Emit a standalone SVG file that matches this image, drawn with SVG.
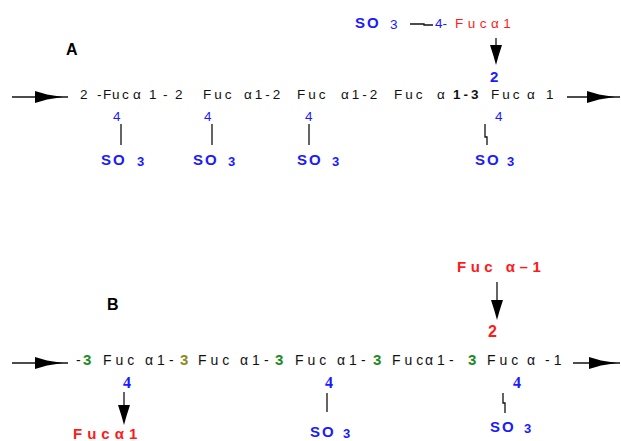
<svg xmlns="http://www.w3.org/2000/svg" width="621" height="441" viewBox="0 0 621 441">
  <style>
    text { font-family: "Liberation Sans", Arial, sans-serif; }
    .chain { font-size: 13.5px; letter-spacing: 3px; fill: #111; }
    .chainB { font-size: 14px; letter-spacing: 4px; fill: #111; }
    .one { font-size: 13.5px; fill: #111; }
    .bold { font-weight: bold; }
    .panel { font-size: 16px; font-weight: bold; fill: #000; }
    .blue { fill: #1a1aff; }
    .red { fill: #ff1a1a; }
    .green { fill: #1a8c1a; }
    .olive { fill: #8c8c1a; }
    .pos { font-size: 13.5px; }
    .posB { font-size: 16px; font-weight: bold; font-family: "Liberation Serif", "Times New Roman", serif; }
    .link3 { font-size: 15px; font-weight: bold; }
    .so { font-size: 15px; font-weight: bold; letter-spacing: 2px; }
    .sub { font-size: 13px; font-weight: bold; }
    .link { stroke: #111; stroke-width: 1.3; fill: none; }
    .head { fill: #000; }
  </style>

  <defs>
    <!-- arrowhead pointing right, tip at origin -->
    <polygon id="headRight" points="-28,-6 -16,-2.5 0,0 -16,2.5 -28,6"/>
    <!-- arrowhead pointing down, tip at origin -->
    <polygon id="headDown" points="-6,-20 6,-20 2.5,-9 0,0 -2.5,-9"/>
  </defs>

  <!-- ===================== Panel A ===================== -->
  <g id="labelA"><text class="panel" x="66" y="55">A</text></g>

  <g id="chainA">
    <text class="one" x="80" y="99">2</text>
    <text class="one" x="97 103 112 122" y="99">-Fuc</text>
    <text class="one" x="133 149 163 175" y="99">α1-2</text>
    <text class="chain" x="203" y="99">Fuc</text>
    <text class="chain" x="244" y="99">α1-2</text>
    <text class="chain" x="297" y="99">Fuc</text>
    <text class="chain" x="341" y="99">α1-2</text>
    <text class="chain" x="394" y="99">Fuc</text>
    <text class="one" x="437" y="99">α</text>
    <text class="chain bold" x="453" y="99">1-3</text>
    <text class="chain" x="491" y="99">Fuc</text>
    <text class="one" x="527" y="99">α</text>
    <text class="one" x="546" y="99">1</text>
  </g>

  <g id="sulfateA1">
    <text class="pos blue" x="113" y="121">4</text>
    <text class="so blue" x="101" y="165">SO</text>
    <text class="sub blue" x="137" y="166">3</text>
  </g>
  <g id="sulfateA2">
    <text class="pos blue" x="204" y="121">4</text>
    <text class="so blue" x="193" y="165">SO</text>
    <text class="sub blue" x="228" y="166">3</text>
  </g>
  <g id="sulfateA3">
    <text class="pos blue" x="305" y="121">4</text>
    <text class="so blue" x="297" y="165">SO</text>
    <text class="sub blue" x="332" y="166">3</text>
  </g>
  <g id="sulfateA4">
    <text class="pos blue" x="495" y="121">4</text>
    <text class="so blue" x="475" y="165">SO</text>
    <text class="sub blue" x="507" y="166">3</text>
  </g>

  <g id="branchA">
    <text class="so blue" x="355" y="28">SO</text>
    <text class="pos blue" x="390" y="29">3</text>
    <text class="pos blue" x="435" y="28">4-</text>
    <text class="chain red" x="455" y="28" style="letter-spacing:4.5px">Fucα1</text>
    <text class="sub blue" x="490" y="82" style="font-size:15px">2</text>
  </g>

  <!-- ===================== Panel B ===================== -->
  <g id="labelB"><text class="panel" x="107" y="310">B</text></g>

  <g id="chainB">
    <text class="one" x="76" y="365" style="font-size:14px">-</text>
    <text class="link3 green" x="83" y="365">3</text>
    <text class="chainB" x="103" y="365">Fuc</text>
    <text class="chainB" x="145" y="365">α1-</text>
    <text class="link3 olive" x="180" y="365">3</text>
    <text class="chainB" x="198" y="365">Fuc</text>
    <text class="chainB" x="240" y="365">α1-</text>
    <text class="link3 green" x="275" y="365">3</text>
    <text class="chainB" x="295" y="365">Fuc</text>
    <text class="chainB" x="337" y="365">α1-</text>
    <text class="link3 green" x="373" y="365">3</text>
    <text class="chainB" x="392" y="365">Fuc</text>
    <text class="chainB" x="425" y="365">α1-</text>
    <text class="link3 green" x="468" y="365">3</text>
    <text class="chainB" x="487" y="365">Fuc</text>
    <text class="chainB" x="527" y="365">α</text>
    <text class="chainB" x="545" y="365">-1</text>
  </g>

  <g id="branchB1">
    <text class="posB blue" x="123" y="388">4</text>
    <text class="chainB bold red" x="73" y="439" style="font-size:15px;letter-spacing:5px">Fucα1</text>
  </g>
  <g id="sulfateB2">
    <text class="posB blue" x="325" y="388">4</text>
    <text class="so blue" x="310" y="437">SO</text>
    <text class="sub blue" x="343" y="438">3</text>
  </g>
  <g id="sulfateB3">
    <text class="posB blue" x="513" y="388">4</text>
    <text class="so blue" x="490" y="432">SO</text>
    <text class="sub blue" x="524" y="433">3</text>
  </g>
  <g id="branchB4">
    <text class="chainB bold red" x="457" y="272" style="font-size:15px;letter-spacing:4.5px">Fuc α–1</text>
    <text class="link3 red" x="488" y="337" style="font-size:16px">2</text>
  </g>

  <!-- ===================== Connectors ===================== -->
  <g id="connectors">
    <!-- panel A chain ends -->
    <line class="link" x1="12" y1="97" x2="68" y2="97"/>
    <use href="#headRight" class="head" x="63" y="97"/>
    <line class="link" x1="567" y1="97" x2="620" y2="97"/>
    <use href="#headRight" class="head" x="615" y="97"/>
    <!-- panel A sulfate bonds -->
    <line class="link" x1="121" y1="124" x2="121" y2="145"/>
    <line class="link" x1="212" y1="124" x2="212" y2="145"/>
    <line class="link" x1="309" y1="124" x2="309" y2="145"/>
    <polyline class="link" points="485,124 485,137 487,137 487,145"/>
    <!-- panel A branch -->
    <polyline class="link" points="410,24 424,24 424,25 433,25"/>
    <line class="link" x1="496" y1="38" x2="496" y2="50"/>
    <use href="#headDown" class="head" x="496" y="65"/>

    <!-- panel B chain ends -->
    <line class="link" x1="12" y1="363" x2="68" y2="363"/>
    <use href="#headRight" class="head" x="63" y="363"/>
    <line class="link" x1="573" y1="363" x2="620" y2="363"/>
    <use href="#headRight" class="head" x="617" y="363"/>
    <!-- panel B bonds -->
    <line class="link" x1="124" y1="392" x2="124" y2="410"/>
    <use href="#headDown" class="head" x="124" y="425"/>
    <line class="link" x1="327" y1="393" x2="327" y2="412"/>
    <polyline class="link" points="503,393 503,403 505,403 505,413"/>
    <line class="link" x1="497" y1="282" x2="497" y2="302"/>
    <use href="#headDown" class="head" x="497" y="320"/>
  </g>
</svg>
